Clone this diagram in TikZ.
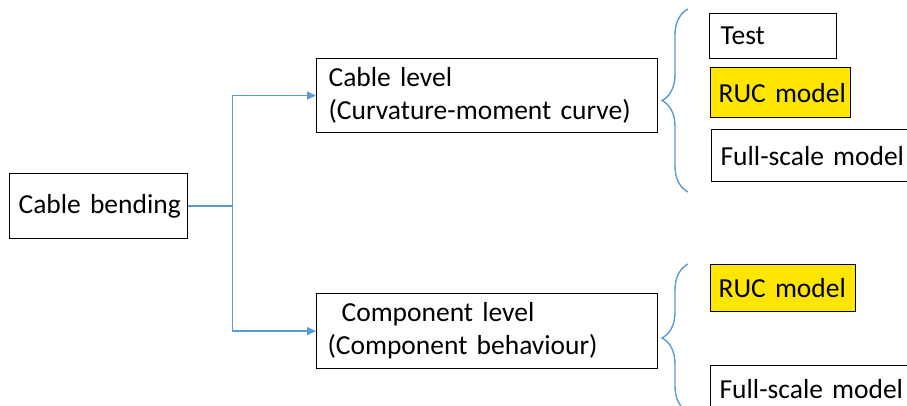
\documentclass[tikz,border=0pt]{standalone}
\usepackage{fontspec}
\setmainfont{Carlito}
\usepackage{xcolor}
\usetikzlibrary{arrows.meta,decorations.pathreplacing}

\definecolor{linkblue}{RGB}{91,155,213}
\definecolor{hilite}{RGB}{255,230,0}

\begin{document}
\begin{tikzpicture}[x=1pt, y=-1pt, font=\fontsize{27.5}{33}\selectfont,
  box/.style={draw, line width=1.2pt, anchor=north west, align=left, inner ysep=0pt},
  link/.style={draw=linkblue, line width=1.4pt},
  curly/.style={draw=linkblue, line width=1.4pt, decorate, decoration={brace, amplitude=26pt}}]
\clip (0,0) rectangle (907,406);

\node (bend) [box, inner xsep=9pt, text width=160pt, minimum height=65pt] at (9,173) {\mbox{Cable bending}};
\node (cable) [box, inner xsep=12pt, text width=317pt, minimum height=74pt] at (316,58) {\mbox{Cable level}\\\mbox{(Curvature-moment curve)}};
\node (comp) [box, inner xsep=11pt, text width=319pt, minimum height=75pt] at (316,293) {\mbox{\hspace*{14pt}Component level}\\\mbox{(Component behaviour)}};

\node (test) [box, inner xsep=11pt, text width=105pt, minimum height=45pt] at (709,13) {\mbox{Test}};
\node (ruca) [box, fill=hilite, inner xsep=8pt, text width=124pt, minimum height=50pt] at (710,67) {\mbox{RUC model}};
\node (fulla) [box, inner xsep=9pt, text width=200pt, minimum height=52pt] at (711,129) {\mbox{Full-scale model}};

\node (rucb) [box, fill=hilite, inner xsep=8pt, text width=129pt, minimum height=47pt] at (710,264) {\mbox{RUC model}};
\node (fullb) [box, inner xsep=9pt, text width=200pt, minimum height=46pt] at (710,365) {\mbox{Full-scale model}};

% split from the root box
\draw[link] (bend.east) -- ++(44,0) coordinate (split);
\draw[link, -{Triangle[length=9pt,width=8pt]}] (split) |- (cable.west);
\draw[link, -{Triangle[length=9pt,width=8pt]}] (split) |- (comp.west);

% braces
\draw[curly] (688,192) -- (688,9) coordinate[midway] (bracea);
\draw[curly] (688,412) -- (688,264) coordinate[midway] (braceb);
\end{tikzpicture}
\end{document}
